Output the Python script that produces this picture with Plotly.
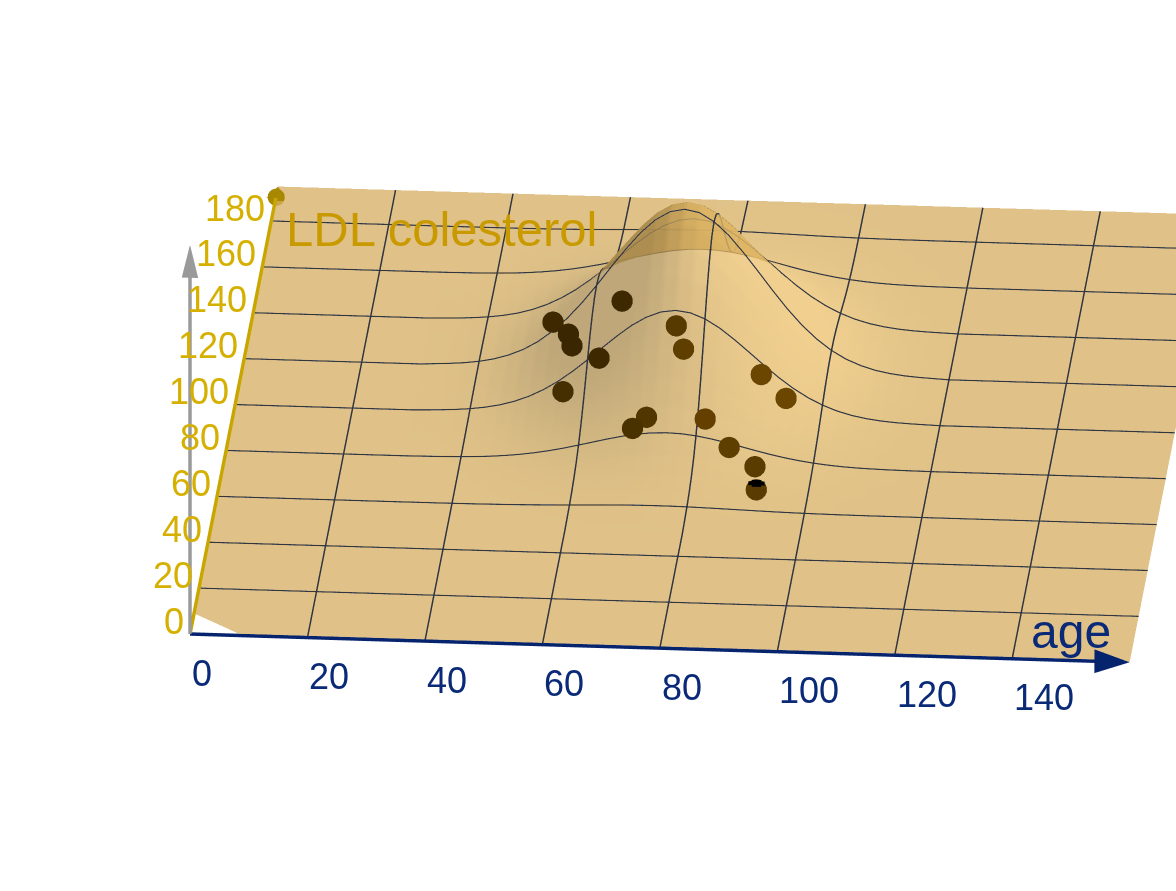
import numpy as np
import plotly.graph_objects as go

# ---------- data ----------
age_nodes = [0, 9, 20, 30, 35, 37.5, 40, 42.5, 45, 47.5, 50, 52.5, 55, 57.5, 60, 62.5, 65, 67.5, 70, 72.5, 75, 77.5,
             80, 82.5, 85, 87.5, 90, 92.5, 95, 97.5, 100, 102.5, 105, 107.5, 110, 112.5, 115, 120, 140, 160]
ldl_nodes = [0, 9, 20, 40, 50, 60, 65, 70, 75, 80, 85, 90, 95, 100, 105, 110, 115, 120, 125, 130, 135, 140, 145,
             150, 155, 160, 165, 170, 175, 180, 195]
# heights of the bump: one row per LDL value 60..180, one column per age 35..115
bump_rows = [
 [.01,.01,.02,.03,.05,.08,.11,.16,.22,.29,.37,.45,.53,.60,.66,.70,.71,.70,.66,.60,.53,.45,.37,.29,.22,.16,.11,.08,.05,.03,.02,.01,.01],
 [.01,.02,.04,.06,.09,.14,.21,.29,.40,.53,.67,.82,.97,1.10,1.21,1.28,1.30,1.28,1.21,1.10,.97,.82,.67,.53,.40,.29,.21,.14,.09,.06,.04,.02,.01],
 [.02,.04,.06,.10,.16,.24,.36,.51,.69,.91,1.16,1.42,1.67,1.90,2.08,2.20,2.24,2.20,2.08,1.90,1.67,1.42,1.16,.91,.69,.51,.36,.24,.16,.10,.06,.04,.02],
 [.03,.06,.10,.16,.26,.40,.58,.83,1.13,1.49,1.89,2.31,2.73,3.10,3.40,3.59,3.66,3.59,3.40,3.10,2.73,2.31,1.89,1.49,1.13,.83,.58,.40,.26,.16,.10,.06,.03],
 [.05,.09,.16,.25,.40,.62,.91,1.29,1.76,2.31,2.94,3.60,4.25,4.83,5.30,5.60,5.70,5.60,5.30,4.83,4.25,3.60,2.94,2.31,1.76,1.29,.91,.62,.40,.25,.16,.09,.05],
 [.08,.13,.23,.38,.60,.91,1.34,1.90,2.59,3.41,4.33,5.31,6.26,7.12,7.80,8.25,8.40,8.25,7.80,7.12,6.26,5.31,4.33,3.41,2.59,1.90,1.34,.91,.60,.38,.23,.13,.08],
 [.11,.19,.32,.53,.84,1.27,1.87,2.66,3.63,4.79,6.08,7.45,8.78,10.00,10.95,11.58,11.79,11.58,10.95,10.00,8.78,7.45,6.08,4.79,3.63,2.66,1.87,1.27,.84,.53,.32,.19,.11],
 [.14,.25,.43,.70,1.11,1.69,2.49,3.55,4.83,6.37,8.10,9.92,11.69,13.31,14.58,15.41,15.69,15.41,14.58,13.31,11.69,9.92,8.10,6.37,4.83,3.55,2.49,1.69,1.11,.70,.43,.25,.14],
 [.18,.32,.54,.89,1.40,2.14,3.15,4.47,6.10,8.04,10.22,12.51,14.75,16.79,18.39,19.44,19.80,19.44,18.39,16.79,14.75,12.51,10.22,8.04,6.10,4.47,3.15,2.14,1.40,.89,.54,.32,.18],
 [.21,.38,.65,1.06,1.68,2.57,3.78,5.37,7.32,9.65,12.26,15.02,17.70,20.15,22.07,23.33,23.76,23.33,22.07,20.15,17.70,15.02,12.26,9.65,7.32,5.37,3.78,2.57,1.68,1.06,.65,.38,.21],
 [.24,.43,.74,1.21,1.92,2.92,4.30,6.11,8.33,10.97,13.95,17.08,20.14,22.92,25.11,26.54,27.03,26.54,25.11,22.92,20.14,17.08,13.95,10.97,8.33,6.11,4.30,2.92,1.92,1.21,.74,.43,.24],
 [.26,.47,.79,1.31,2.07,3.16,4.65,6.60,9.00,11.86,15.08,18.47,21.77,24.78,27.15,28.69,29.22,28.69,27.15,24.78,21.77,18.47,15.08,11.86,9.00,6.60,4.65,3.16,2.07,1.31,.79,.47,.26],
 [.27,.48,.82,1.34,2.13,3.24,4.77,6.78,9.24,12.18,15.48,18.96,22.35,25.44,27.87,29.46,30.00,29.46,27.87,25.44,22.35,18.96,15.48,12.18,9.24,6.78,4.77,3.24,2.13,1.34,.82,.48,.27],
 [.26,.47,.79,1.31,2.07,3.16,4.65,6.60,9.00,11.86,15.08,18.47,21.77,24.78,27.15,28.69,29.22,28.69,27.15,24.78,21.77,18.47,15.08,11.86,9.00,6.60,4.65,3.16,2.07,1.31,.79,.47,.26],
 [.24,.43,.74,1.21,1.92,2.92,4.30,6.11,8.33,10.97,13.95,17.08,20.14,22.92,25.11,26.54,27.03,26.54,25.11,22.92,20.14,17.08,13.95,10.97,8.33,6.11,4.30,2.92,1.92,1.21,.74,.43,.24],
 [.21,.38,.65,1.06,1.68,2.57,3.78,5.37,7.32,9.65,12.26,15.02,17.70,20.15,22.07,23.33,23.76,23.33,22.07,20.15,17.70,15.02,12.26,9.65,7.32,5.37,3.78,2.57,1.68,1.06,.65,.38,.21],
 [.18,.32,.54,.89,1.40,2.14,3.15,4.47,6.10,8.04,10.22,12.51,14.75,16.79,18.39,19.44,19.80,19.44,18.39,16.79,14.75,12.51,10.22,8.04,6.10,4.47,3.15,2.14,1.40,.89,.54,.32,.18],
 [.14,.25,.43,.70,1.11,1.69,2.49,3.55,4.83,6.37,8.10,9.92,11.69,13.31,14.58,15.41,15.69,15.41,14.58,13.31,11.69,9.92,8.10,6.37,4.83,3.55,2.49,1.69,1.11,.70,.43,.25,.14],
 [.11,.19,.32,.53,.84,1.27,1.87,2.66,3.63,4.79,6.08,7.45,8.78,10.00,10.95,11.58,11.79,11.58,10.95,10.00,8.78,7.45,6.08,4.79,3.63,2.66,1.87,1.27,.84,.53,.32,.19,.11],
 [.08,.13,.23,.38,.60,.91,1.34,1.90,2.59,3.41,4.33,5.31,6.26,7.12,7.80,8.25,8.40,8.25,7.80,7.12,6.26,5.31,4.33,3.41,2.59,1.90,1.34,.91,.60,.38,.23,.13,.08],
 [.05,.09,.16,.25,.40,.62,.91,1.29,1.76,2.31,2.94,3.60,4.25,4.83,5.30,5.60,5.70,5.60,5.30,4.83,4.25,3.60,2.94,2.31,1.76,1.29,.91,.62,.40,.25,.16,.09,.05],
 [.03,.06,.10,.16,.26,.40,.58,.83,1.13,1.49,1.89,2.31,2.73,3.10,3.40,3.59,3.66,3.59,3.40,3.10,2.73,2.31,1.89,1.49,1.13,.83,.58,.40,.26,.16,.10,.06,.03],
 [.02,.04,.06,.10,.16,.24,.36,.51,.69,.91,1.16,1.42,1.67,1.90,2.08,2.20,2.24,2.20,2.08,1.90,1.67,1.42,1.16,.91,.69,.51,.36,.24,.16,.10,.06,.04,.02],
 [.01,.02,.04,.06,.09,.14,.21,.29,.40,.53,.67,.82,.97,1.10,1.21,1.28,1.30,1.28,1.21,1.10,.97,.82,.67,.53,.40,.29,.21,.14,.09,.06,.04,.02,.01],
 [.01,.01,.02,.03,.05,.08,.11,.16,.22,.29,.37,.45,.53,.60,.66,.70,.71,.70,.66,.60,.53,.45,.37,.29,.22,.16,.11,.08,.05,.03,.02,.01,.01],
]
point_age = [51, 54, 55, 62, 60, 55, 70, 68, 72, 74, 80, 85, 90, 91, 88, 93]
point_ldl = [140, 135, 130, 150, 125, 110, 100, 95, 140, 130, 100, 88, 80, 70, 120, 110]
point_color = ["#3d2800", "#3a2600", "#3a2600", "#3d2800", "#3d2800", "#452e00", "#513600", "#4a3200",
               "#573a00", "#5e3f00", "#643f00", "#5f3f00", "#5a3c00", "#5a3c00", "#6a4600", "#6a4600"]
age_ticks = [0, 20, 40, 60, 80, 100, 120, 140]
ldl_ticks = [0, 20, 40, 60, 80, 100, 120, 140, 160, 180]
grid_ages = [20, 40, 60, 80, 100, 120, 140]
grid_ldls = [20, 40, 60, 80, 100, 120, 140, 160, 180]

# ---------- view: orthographic ----------
W, H = 1176, 891
X_RANGE, Y_RANGE, Z_RANGE = (-10, 170), (-20, 195), (-10, 72)
theta, phi = np.radians(4.4), np.radians(23.0)
u = np.array([np.cos(theta), np.sin(theta), 0.0])
e = np.array([np.cos(phi) * np.sin(theta), -np.cos(phi) * np.cos(theta), np.sin(phi)])
v = np.cross(e, u)
PX_PER_SCENE = H / 2          # plotly's orthographic scale
PX_PER_UNIT = 5.89
A = PX_PER_UNIT / PX_PER_SCENE   # scene units per data unit
EYE_DIST = 6.0
mid = np.array([sum(X_RANGE) / 2, sum(Y_RANGE) / 2, sum(Z_RANGE) / 2])
origin_scene = A * (np.zeros(3) - mid)
want = np.array([(190 - W / 2) / PX_PER_SCENE, (H / 2 - 634) / PX_PER_SCENE])
center = u * (origin_scene @ u - want[0]) + v * (origin_scene @ v - want[1])
eye = center + EYE_DIST * e


def lift(x, y, z, t):
    """Slide along the line of sight: the orthographic picture position does not change."""
    return (np.asarray(x, float) + t * e[0], np.asarray(y, float) + t * e[1], np.asarray(z, float) + t * e[2])


heights = np.pad(np.array(bump_rows), ((5, 1), (4, 3)))
ages = np.array(age_nodes, float)
ldls = np.array(ldl_nodes, float)
xg, yg = np.meshgrid(ages, ldls)
xg[0, 0] = 4.5   # near corner of the sheet is cut off
yg[0, 0] = 4.5

fig = go.Figure()
fig.add_trace(go.Surface(
    x=xg, y=yg, z=heights, showscale=False, opacity=0.75, hoverinfo="skip",
    colorscale=[[0, "rgb(236,192,106)"], [1, "rgb(236,192,106)"]], cmin=0, cmax=1, surfacecolor=np.zeros_like(heights),
    lighting=dict(ambient=0.72, diffuse=0.28, specular=0, roughness=1, fresnel=0),
    lightposition=dict(x=10000, y=6500, z=0),
))


# grid lines that follow the sheet
def grid_trace(lx, ly, lz, width):
    gx, gy, gz = lift(lx, ly, lz, 0.5)
    fig.add_trace(go.Scatter3d(x=gx, y=gy, z=gz, mode="lines", hoverinfo="skip", showlegend=False,
                               line=dict(color="#33363c", width=width)))


lx, ly, lz = [], [], []
for a in grid_ages:
    i = age_nodes.index(a)
    lx += list(ages[i] * np.ones(len(ldls))) + [np.nan]
    ly += list(ldls) + [np.nan]
    lz += list(heights[:, i]) + [np.nan]
grid_trace(lx, ly, lz, 3.2)
lx, ly, lz = [], [], []
for b in grid_ldls:
    j = ldl_nodes.index(b)
    lx += list(ages) + [np.nan]
    ly += list(ldls[j] * np.ones(len(ages))) + [np.nan]
    lz += list(heights[j, :]) + [np.nan]
grid_trace(lx, ly, lz, 2.6)

# data points lie on the floor and show through the sheet
px_, py_, pz_ = lift(point_age, point_ldl, np.zeros(len(point_age)), 85)
fig.add_trace(go.Scatter3d(x=px_, y=py_, z=pz_, mode="markers", hoverinfo="skip", showlegend=False,
                           marker=dict(size=12.5, color=point_color, line=dict(width=0), opacity=1)))
# black cap of the point that pokes through
for c_age, c_width in (([89.6, 92.4], 8), ([90.2, 91.8], 14)):
    cx_, cy_, cz_ = lift(c_age, [71, 71], [0.7, 0.7], 95)
    fig.add_trace(go.Scatter3d(x=cx_, y=cy_, z=cz_, mode="lines", hoverinfo="skip", showlegend=False,
                               line=dict(color="#000000", width=c_width)))


def axis(x, y, z, color, w):
    ax_, ay_, az_ = lift(x, y, z, 1.0)
    fig.add_trace(go.Scatter3d(x=ax_, y=ay_, z=az_, mode="lines", hoverinfo="skip", showlegend=False,
                               line=dict(color=color, width=w)))


def head(x, y, z, color):
    hx, hy, hz = lift(x, y, z, 1.0)
    fig.add_trace(go.Mesh3d(x=hx, y=hy, z=hz, i=[0], j=[1], k=[2], color=color, flatshading=True, hoverinfo="skip",
                            lighting=dict(ambient=1, diffuse=0, specular=0)))


BLUE, GOLD, GREY = "#06246e", "#c9a500", "#9a9a9a"
axis([0, 155], [0, 0], [0, 0], BLUE, 7)
head([160, 154, 154], [0, 0, 0], [0, 2.2, -2.2], BLUE)
axis([0, 0], [0, 190], [0, 0], GOLD, 7)
head([1.6, -1.6, 0], [190, 190, 195], [0, 0, 0], "#a88800")
hx_, hy_, hz_ = lift([0], [190.5], [0], 1.0)
fig.add_trace(go.Scatter3d(x=hx_, y=hy_, z=hz_, mode="markers", hoverinfo="skip", showlegend=False,
                           marker=dict(size=10, color="#a88800", line=dict(width=0))))
axis([0, 0], [0, 0], [0, 66], GREY, 7)
head([-1.4, 1.4, 0], [0, 0, 0], [65.7, 65.7, 71.8], GREY)

# text
FONT = "Liberation Sans"
notes = []
for k in age_ticks:
    notes.append(dict(x=k, y=0, z=-7.2, text=str(k), showarrow=False, xanchor="left", yanchor="middle",
                      font=dict(family=FONT, size=36, color="#0a2a78")))
for k in ldl_ticks:
    notes.append(dict(x=-0.7, y=k, z=2.35, text=str(k), showarrow=False, xanchor="right", yanchor="middle",
                      font=dict(family=FONT, size=36, color="#d6b000")))
notes.append(dict(x=150, y=0, z=5.4, text="age", showarrow=False, xanchor="center", yanchor="middle",
                  font=dict(family=FONT, size=48, color="#0a2a78")))
notes.append(dict(x=4.5, y=150, z=11.3, text="LDL colesterol", showarrow=False, xanchor="left", yanchor="middle",
                  font=dict(family=FONT, size=49, color="#c99a00")))

hidden = dict(visible=False, showgrid=False, zeroline=False, showspikes=False, autorange=False)
fig.update_layout(
    width=W, height=H, margin=dict(l=0, r=0, t=0, b=0), paper_bgcolor="white", showlegend=False,
    scene=dict(
        domain=dict(x=[0, 1], y=[0, 1]), bgcolor="white",
        xaxis=dict(range=list(X_RANGE), **hidden),
        yaxis=dict(range=list(Y_RANGE), **hidden),
        zaxis=dict(range=list(Z_RANGE), **hidden),
        aspectmode="manual",
        aspectratio=dict(x=A * (X_RANGE[1] - X_RANGE[0]), y=A * (Y_RANGE[1] - Y_RANGE[0]), z=A * (Z_RANGE[1] - Z_RANGE[0])),
        camera=dict(projection=dict(type="orthographic"),
                    eye=dict(x=eye[0], y=eye[1], z=eye[2]),
                    center=dict(x=center[0], y=center[1], z=center[2]),
                    up=dict(x=0, y=0, z=1)),
        annotations=notes,
    ),
)
fig.write_html("out.html", post_script="document.body.style.margin='0';", config=dict(displayModeBar=False))
